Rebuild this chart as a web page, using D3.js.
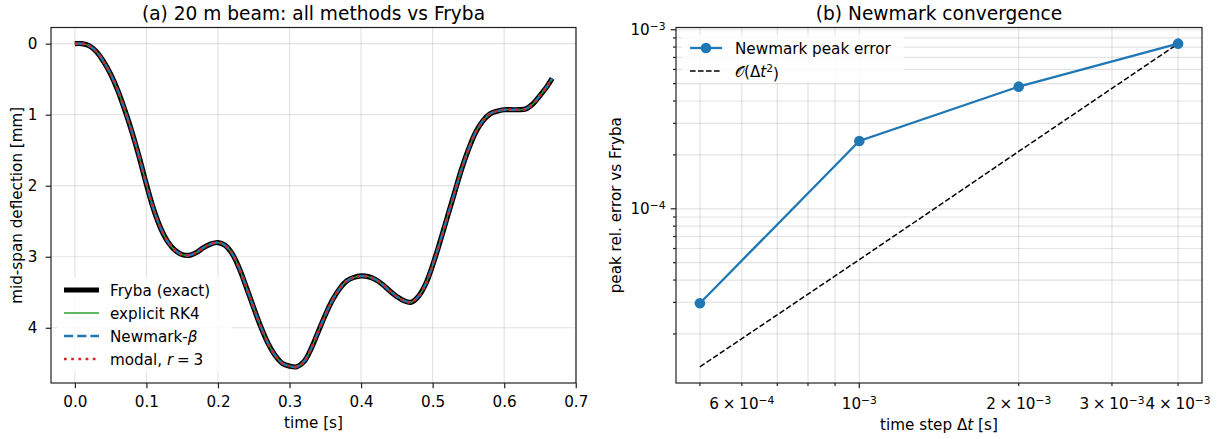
<!DOCTYPE html>
<html>
<head>
<meta charset="utf-8">
<script src="https://cdn.jsdelivr.net/npm/d3@7"></script>
<style>
body { margin: 0; background: #fff; }
text { font-family: "DejaVu Sans", sans-serif; fill: #000; }
</style>
</head>
<body>
<div id="chart"></div>
<script>
// (a) mid-span deflection
var timeS = [0, 0.01, 0.02, 0.03, 0.04, 0.05, 0.06, 0.07, 0.08, 0.09,
	0.10, 0.11, 0.12, 0.13, 0.14, 0.15, 0.16, 0.17, 0.18, 0.19,
	0.20, 0.21, 0.22, 0.23, 0.24, 0.25, 0.26, 0.27, 0.28, 0.29,
	0.30, 0.31, 0.32, 0.33, 0.34, 0.35, 0.36, 0.37, 0.38, 0.39,
	0.40, 0.41, 0.42, 0.43, 0.44, 0.45, 0.46, 0.47, 0.48, 0.49,
	0.50, 0.51, 0.52, 0.53, 0.54, 0.55, 0.56, 0.57, 0.58, 0.59,
	0.60, 0.61, 0.62, 0.63, 0.64, 0.65, 0.66, 0.667];
var deflMm = [0, 0.0, 0.03, 0.11, 0.25, 0.43, 0.66, 0.94, 1.25, 1.60,
	1.98, 2.33, 2.60, 2.79, 2.91, 2.97, 2.98, 2.94, 2.87, 2.82,
	2.80, 2.84, 2.96, 3.17, 3.44, 3.72, 3.99, 4.22, 4.39, 4.50,
	4.54, 4.55, 4.48, 4.30, 4.06, 3.82, 3.61, 3.45, 3.34, 3.29,
	3.27, 3.28, 3.32, 3.39, 3.48, 3.56, 3.62, 3.64, 3.56, 3.39,
	3.12, 2.80, 2.46, 2.12, 1.78, 1.49, 1.25, 1.09, 0.99, 0.95,
	0.93, 0.93, 0.93, 0.92, 0.85, 0.73, 0.60, 0.49];
var timeTicks = [0, 0.1, 0.2, 0.3, 0.4, 0.5, 0.6, 0.7];
var deflTicks = [0, 1, 2, 3, 4];

// (b) convergence
var dtS = [5e-4, 1e-3, 2e-3, 4e-3];
var peakErr = [2.97e-5, 2.39e-4, 4.81e-4, 8.36e-4];
var refErr = [1.31e-5, 5.2e-5, 2.09e-4, 8.36e-4];
var dtTicks = [5e-4, 6e-4, 7e-4, 8e-4, 9e-4, 1e-3, 2e-3, 3e-3, 4e-3];
var dtLabels = ["", "6\u2005×\u200510^−4", "", "", "", "10^−3", "2\u2005×\u200510^−3", "3\u2005×\u200510^−3", "4\u2005×\u200510^−3"];
var errMajor = [1e-4, 1e-3];
var errMajorLabels = ["10^−4", "10^−3"];
var errMinor = [2e-5, 3e-5, 4e-5, 5e-5, 6e-5, 7e-5, 8e-5, 9e-5, 2e-4, 3e-4, 4e-4, 5e-4, 6e-4, 7e-4, 8e-4, 9e-4];

var blue = "#1f77b4", green = "#2ca02c", red = "#d62728";
var gridCol = "#b0b0b0";
var fs = "15.2px", fsSup = "10.7px";

function pad(ext) {
	var m = (ext[1] - ext[0]) * 0.05;
	return [ext[0] - m, ext[1] + m];
}
function padLog(ext) {
	var a = Math.log10(ext[0]), b = Math.log10(ext[1]), m = (b - a) * 0.05;
	return [Math.pow(10, a - m), Math.pow(10, b + m)];
}
function supText(sel, s) {
	var parts = s.split("^");
	sel.text(null);
	sel.append("tspan").text(parts[0]);
	if (parts.length > 1) {
		sel.append("tspan").attr("dy", "-0.45em").attr("font-size", fsSup).text(parts[1]);
	}
}

var svg = d3.select("#chart").append("svg")
	.attr("width", 1220)
	.attr("height", 439);

// ---------- panel (a) ----------
var ax = { l: 51, r: 576, t: 27.5, b: 383 };
var xa = d3.scaleLinear().domain(pad(d3.extent(timeS))).range([ax.l, ax.r]);
var ya = d3.scaleLinear().domain(pad([0, d3.max(deflMm)])).range([ax.t, ax.b]);

var ga = svg.append("g");
ga.selectAll(".vg").data(timeTicks).enter().append("line")
	.attr("x1", d => xa(d)).attr("x2", d => xa(d))
	.attr("y1", ax.t).attr("y2", ax.b)
	.attr("stroke", gridCol).attr("stroke-opacity", 0.35).attr("stroke-width", 1.2);
ga.selectAll(".hg").data(deflTicks).enter().append("line")
	.attr("x1", ax.l).attr("x2", ax.r)
	.attr("y1", d => ya(d)).attr("y2", d => ya(d))
	.attr("stroke", gridCol).attr("stroke-opacity", 0.35).attr("stroke-width", 1.2);

var pts = timeS.map((t, i) => [t, deflMm[i]]);
var line = d3.line().x(d => xa(d[0])).y(d => ya(d[1])).curve(d3.curveCatmullRom.alpha(0.5));

ga.append("path").attr("d", line(pts)).attr("fill", "none")
	.attr("stroke", "#000").attr("stroke-width", 5.2);
ga.append("path").attr("d", line(pts)).attr("fill", "none")
	.attr("stroke", green).attr("stroke-width", 1.5);
ga.append("path").attr("d", line(pts)).attr("fill", "none")
	.attr("stroke", blue).attr("stroke-width", 2.5).attr("stroke-dasharray", "9.2,4");
ga.append("path").attr("d", line(pts)).attr("fill", "none")
	.attr("stroke", red).attr("stroke-width", 2.7).attr("stroke-dasharray", "2.7,4.5");

ga.append("rect").attr("x", ax.l).attr("y", ax.t)
	.attr("width", ax.r - ax.l).attr("height", ax.b - ax.t)
	.attr("fill", "none").attr("stroke", "#222").attr("stroke-width", 1.2);

var xAxisA = ga.append("g").attr("transform", "translate(0," + ax.b + ")")
	.call(d3.axisBottom(xa).tickValues(timeTicks).tickFormat(d3.format(".1f"))
		.tickSize(5.3).tickPadding(8.4).tickSizeOuter(0));
var yAxisA = ga.append("g").attr("transform", "translate(" + ax.l + ",0)")
	.call(d3.axisLeft(ya).tickValues(deflTicks).tickFormat(d3.format("d"))
		.tickSize(5.3).tickPadding(8.4).tickSizeOuter(0));
[xAxisA, yAxisA].forEach(function(g) {
	g.select(".domain").remove();
	g.selectAll("line").attr("stroke", "#222").attr("stroke-width", 1.2);
	g.selectAll("text").attr("font-size", fs).attr("font-family", "DejaVu Sans").attr("fill", "#000");
});

svg.append("text").attr("x", (ax.l + ax.r) / 2).attr("y", 20)
	.attr("text-anchor", "middle").attr("font-size", "18.6px")
	.text("(a) 20 m beam: all methods vs Fryba");
svg.append("text").attr("x", (ax.l + ax.r) / 2).attr("y", 428)
	.attr("text-anchor", "middle").attr("font-size", fs).text("time [s]");
svg.append("text").attr("transform", "translate(17," + (ax.t + ax.b) / 2 + ") rotate(-90)")
	.attr("dy", "0.35em").attr("text-anchor", "middle").attr("font-size", fs)
	.text("mid-span deflection [mm]");

// legend (a)
var legA = svg.append("g");
legA.append("rect").attr("x", 57).attr("y", 277).attr("width", 175).attr("height", 95)
	.attr("fill", "#fff").attr("fill-opacity", 0.8);
var legAItems = [
	{ y: 290, stroke: "#000", w: 5.2, dash: null },
	{ y: 313, stroke: green, w: 1.5, dash: null },
	{ y: 336, stroke: blue, w: 2.5, dash: "9.2,4" },
	{ y: 359, stroke: red, w: 2.7, dash: "2.7,4.5" }
];
legA.selectAll(".h").data(legAItems).enter().append("line")
	.attr("x1", 64).attr("x2", 99)
	.attr("y1", d => d.y).attr("y2", d => d.y)
	.attr("stroke", d => d.stroke).attr("stroke-width", d => d.w)
	.attr("stroke-dasharray", d => d.dash);
var lt = legA.append("g").attr("font-size", fs);
lt.append("text").attr("x", 110).attr("y", 295.5).text("Fryba (exact)");
lt.append("text").attr("x", 110).attr("y", 318.5).text("explicit RK4");
var t3 = lt.append("text").attr("x", 110).attr("y", 341.5);
t3.append("tspan").text("Newmark-");
t3.append("tspan").attr("font-style", "italic").text("β");
var t4 = lt.append("text").attr("x", 110).attr("y", 364.5);
t4.append("tspan").text("modal, ");
t4.append("tspan").attr("font-style", "italic").text("r");
t4.append("tspan").text("\u2005=\u20053");

// ---------- panel (b) ----------
var bx = { l: 676, r: 1202, t: 27.5, b: 383 };
var xb = d3.scaleLog().domain(padLog(d3.extent(dtS))).range([bx.l, bx.r]);
var yb = d3.scaleLog().domain(padLog([d3.min(refErr), d3.max(peakErr)])).range([bx.b, bx.t]);

var gb = svg.append("g");
gb.selectAll(".vg").data(dtTicks).enter().append("line")
	.attr("x1", d => xb(d)).attr("x2", d => xb(d))
	.attr("y1", bx.t).attr("y2", bx.b)
	.attr("stroke", gridCol).attr("stroke-opacity", 0.35).attr("stroke-width", 1.2);
gb.selectAll(".hg").data(errMajor.concat(errMinor)).enter().append("line")
	.attr("x1", bx.l).attr("x2", bx.r)
	.attr("y1", d => yb(d)).attr("y2", d => yb(d))
	.attr("stroke", gridCol).attr("stroke-opacity", 0.35).attr("stroke-width", 1.2);

var lineB = d3.line().x(d => xb(d[0])).y(d => yb(d[1]));
gb.append("path").attr("d", lineB(dtS.map((d, i) => [d, refErr[i]])))
	.attr("fill", "none").attr("stroke", "#000").attr("stroke-width", 1.5)
	.attr("stroke-dasharray", "5.6,2.4");
gb.append("path").attr("d", lineB(dtS.map((d, i) => [d, peakErr[i]])))
	.attr("fill", "none").attr("stroke", blue).attr("stroke-width", 2.3);
gb.selectAll("circle").data(dtS).enter().append("circle")
	.attr("cx", d => xb(d))
	.attr("cy", (d, i) => yb(peakErr[i]))
	.attr("r", 5.3).attr("fill", blue);

gb.append("rect").attr("x", bx.l).attr("y", bx.t)
	.attr("width", bx.r - bx.l).attr("height", bx.b - bx.t)
	.attr("fill", "none").attr("stroke", "#222").attr("stroke-width", 1.2);

// x ticks
var xtk = gb.append("g");
xtk.selectAll("line").data(dtTicks).enter().append("line")
	.attr("x1", d => xb(d)).attr("x2", d => xb(d))
	.attr("y1", bx.b).attr("y2", d => bx.b + (d === 1e-3 ? 5.3 : 3))
	.attr("stroke", "#222").attr("stroke-width", 1.2);
xtk.selectAll("text").data(dtTicks).enter().append("text")
	.attr("x", d => xb(d)).attr("y", 409)
	.attr("text-anchor", "middle").attr("font-size", fs)
	.each(function(d, i) { supText(d3.select(this), dtLabels[i]); });

// y ticks
var ytk = gb.append("g");
ytk.selectAll(".maj").data(errMajor).enter().append("line")
	.attr("x1", bx.l - 5.3).attr("x2", bx.l)
	.attr("y1", d => yb(d)).attr("y2", d => yb(d))
	.attr("stroke", "#222").attr("stroke-width", 1.2);
ytk.selectAll(".min").data(errMinor).enter().append("line")
	.attr("x1", bx.l - 3).attr("x2", bx.l)
	.attr("y1", d => yb(d)).attr("y2", d => yb(d))
	.attr("stroke", "#222").attr("stroke-width", 1.2);
ytk.selectAll("text").data(errMajor).enter().append("text")
	.attr("x", bx.l - 10.5).attr("y", d => yb(d) + 5.5)
	.attr("text-anchor", "end").attr("font-size", fs)
	.each(function(d, i) { supText(d3.select(this), errMajorLabels[i]); });

svg.append("text").attr("x", (bx.l + bx.r) / 2).attr("y", 20)
	.attr("text-anchor", "middle").attr("font-size", "18.6px")
	.text("(b) Newmark convergence");
var xl = svg.append("text").attr("x", (bx.l + bx.r) / 2).attr("y", 430)
	.attr("text-anchor", "middle").attr("font-size", fs);
xl.append("tspan").text("time step Δ");
xl.append("tspan").attr("font-style", "italic").text("t");
xl.append("tspan").text(" [s]");
svg.append("text").attr("transform", "translate(616," + (bx.t + bx.b) / 2 + ") rotate(-90)")
	.attr("dy", "0.35em").attr("text-anchor", "middle").attr("font-size", fs)
	.text("peak rel. error vs Fryba");

// legend (b)
var legB = svg.append("g");
legB.append("rect").attr("x", 682).attr("y", 35).attr("width", 222).attr("height", 48)
	.attr("fill", "#fff").attr("fill-opacity", 0.8);
legB.append("line").attr("x1", 690).attr("x2", 722).attr("y1", 48).attr("y2", 48)
	.attr("stroke", blue).attr("stroke-width", 2.3);
legB.append("circle").attr("cx", 706).attr("cy", 48).attr("r", 5.3).attr("fill", blue);
legB.append("line").attr("x1", 690).attr("x2", 722).attr("y1", 71).attr("y2", 71)
	.attr("stroke", "#000").attr("stroke-width", 1.5).attr("stroke-dasharray", "5.6,2.4");
legB.append("text").attr("x", 735).attr("y", 53.5).attr("font-size", fs).text("Newmark peak error");
var ot = legB.append("text").attr("x", 735).attr("y", 76.5).attr("font-size", fs);
ot.append("tspan").text("\u{1D4AA}(Δ");
ot.append("tspan").attr("font-style", "italic").text("t");
ot.append("tspan").attr("dy", "-0.45em").attr("font-size", fsSup).text("2");
ot.append("tspan").attr("dy", "0.45em").text(")");
</script>
</body>
</html>
